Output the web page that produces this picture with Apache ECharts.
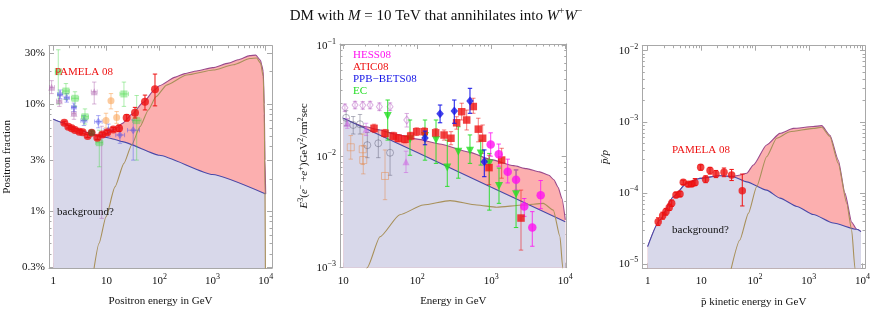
<!DOCTYPE html>
<html><head><meta charset="utf-8">
<script src="https://cdn.jsdelivr.net/npm/echarts@6/dist/echarts.min.js"></script>
<style>html,body{margin:0;padding:0;background:#fff}#c{width:872px;height:319px}</style>
</head><body><div id="c"></div>
<script>
// ================= DATA =================
// Panel 1: positron fraction vs positron energy (GeV)
const posBgE  = [1,1.5,2,3,5,7,10,15,20,100,1000,10000];
const posBgF  = [0.072,0.067,0.063,0.058,0.053,0.0505,0.0488,0.0465,0.0446,0.0333,0.022,0.0145];
const posTotE = [1,2,3,5,7,10,15,20,30,50,80,100,200,300,500,1000,2000,3000,5000,6500,8000,8400,9000,9400,9700,10000];
const posTotF = [0.072,0.063,0.058,0.053,0.0505,0.053,0.059,0.066,0.080,0.104,0.135,0.148,0.178,0.192,0.203,0.218,0.24,0.258,0.282,0.285,0.255,0.232,0.2,0.1,0.03,0.0145];
const posDmE  = [5.5,7.26,9.83,14.5,21.4,29.9,43,61.7,86,136,325,1030,2450,5060,6760,8000,9000,9400,9700,9900];
const posDmF  = [0.0024,0.00503,0.0089,0.0169,0.028,0.0415,0.0615,0.088,0.117,0.150,0.186,0.207,0.232,0.265,0.268,0.24,0.18,0.08,0.015,0.002];
// rows: [E, value, low, high, Elow, Ehigh]
const pamelaPos = [[1.61,0.067,0.065,0.069],[1.92,0.0614,0.0597,0.0631],[2.22,0.0593,0.0577,0.061],[2.56,0.0573,0.0557,0.059],[3.09,0.0552,0.0536,0.0569],[3.57,0.0545,0.0528,0.0562],[4.44,0.0503,0.0487,0.052],[5.27,0.054,0.052,0.056],[6.75,0.0485,0.0468,0.0503],[8.4,0.052,0.0502,0.054],[10.4,0.0545,0.0525,0.0566],[13.5,0.058,0.0556,0.0605],[17.3,0.0593,0.0555,0.0635],[24.1,0.0745,0.0695,0.0795],[34.6,0.083,0.074,0.093],[53.3,0.105,0.088,0.121],[82.3,0.137,0.096,0.19]];
const oldPosPurple = [[0.93,0.143,0.125,0.165,0.85,1.05],[1.3,0.107,0.095,0.12,1.15,1.45],[2.45,0.082,0.072,0.094,2.2,2.7],[5.9,0.13,0.1,0.16,5.2,6.7],[8.15,0.052,0.0086,0.062,7.3,9.1]];
const oldPosBlue   = [[1.34,0.123,0.112,0.135,1.2,1.5],[1.79,0.114,0.104,0.125,1.6,2.0],[2.45,0.093,0.085,0.102,2.2,2.7],[3.78,0.07,0.063,0.078,3.3,4.3],[7.05,0.0684,0.06,0.078,6,8.3],[10.9,0.057,0.05,0.065,9,13],[18,0.0514,0.043,0.06,15,22],[32,0.057,0.03,0.071,25,42]];
const oldPosGreen  = [[1.24,0.2,0.1,0.32,1.1,1.4],[1.73,0.132,0.11,0.155,1.5,2.0],[2.56,0.113,0.095,0.13,2.2,3.0],[3.95,0.076,0.065,0.09,3.4,4.6],[7.35,0.0436,0.026,0.057,6.3,8.6],[21.4,0.124,0.095,0.16,18,26],[37.2,0.07,0.03,0.12,31,45]];
const oldPosOrange = [[9.83,0.07,0.06,0.082],[12.2,0.107,0.09,0.125],[15.6,0.075,0.066,0.085]];
const oldPosDark   = [[5.27,0.054,0.052,0.056]];

// Panel 2: E^3 flux of e+ + e- vs energy (GeV)
const eeBgE  = [10,100,1000,10000];
const eeBgF  = [0.0222,0.0109,0.0053,0.0026];
const eeTotE = [10,20,30,50,100,200,500,1000,2000,3000,4500,6000,7000,8000,9000,10000];
const eeTotF = [0.0222,0.0186,0.0175,0.0160,0.0144,0.0130,0.0110,0.0094,0.0083,0.0078,0.0073,0.0068,0.0062,0.0053,0.0042,0.0027];
const eeDmE  = [19,21,31.3,58,120,277,635,1180,2700,5040,6890,8480,9230,9500];
const eeDmF  = [0.00085,0.001,0.0019,0.003,0.00367,0.00402,0.00367,0.0035,0.00367,0.0038,0.0033,0.0019,0.001,0.0006];
const hess08 = [[981,0.0129,0.0101,0.0164],[1260,0.0105,0.0082,0.013],[1667,0.0073,0.0058,0.0095],[2160,0.0062,0.005,0.0076],[2790,0.00355,0.0029,0.0042],[3580,0.0023,0.00156,0.0032],[4650,0.0045,0.0034,0.0061]];
const atic08 = [[26,0.018,0.0165,0.0196],[36.6,0.01626,0.015,0.0176],[47.5,0.01535,0.0142,0.0166],[55.3,0.01466,0.0136,0.0158],[68.2,0.01435,0.0133,0.0155],[81.3,0.01535,0.0142,0.0166],[98,0.0168,0.0155,0.0182],[124,0.0168,0.0155,0.0182],[177,0.0164,0.015,0.0179],[230,0.01567,0.0141,0.0174],[285,0.01466,0.0128,0.0168],[340,0.0202,0.0177,0.0229],[398,0.0254,0.0214,0.0303],[465,0.0214,0.0174,0.0263],[571,0.0283,0.0246,0.0336],[667,0.0177,0.0136,0.0222],[764,0.01466,0.0107,0.0193],[931,0.00797,0.0056,0.0103],[1380,0.00933,0.0064,0.0119],[2520,0.0028,0.00144,0.005]];
const ppbBets08 = [[127,0.0147,0.0128,0.017],[203,0.0243,0.0202,0.0292],[316,0.0258,0.02,0.0324],[515,0.0318,0.0246,0.0413],[804,0.009,0.0066,0.0115]];
const ec = [[39.8,0.0233,0.0141,0.0324],[79.6,0.01435,0.0103,0.0214],[127,0.01535,0.0093,0.0214],[179,0.0141,0.0087,0.0214],[254,0.008,0.0054,0.0141],[358,0.0111,0.0064,0.0186],[515,0.0113,0.0087,0.0157],[720,0.0107,0.0084,0.0141],[940,0.0087,0.0033,0.0107],[1270,0.00545,0.0038,0.0079],[2160,0.00458,0.0023,0.0076]];
const oldEeDiamond = [[10.5,0.0276,0.0255,0.0298],[14.4,0.0292,0.027,0.0315],[18.3,0.029,0.0268,0.0313],[23,0.0292,0.027,0.0315],[30.7,0.0282,0.026,0.0305],[42.8,0.0282,0.026,0.0305],[72,0.0214,0.0185,0.0245]];
const oldEeCircle  = [[10.9,0.0224,0.019,0.026],[13.6,0.0193,0.016,0.023],[16.8,0.0196,0.016,0.024],[21.1,0.0127,0.0098,0.0165],[29.7,0.0132,0.0098,0.0175],[42.8,0.01085,0.0068,0.0165]];
const oldEeSquare  = [[12.6,0.01216,0.0095,0.0155],[18.3,0.01167,0.0085,0.016],[18.6,0.00933,0.007,0.0125],[36.6,0.0067,0.0041,0.0115]];
const oldEeTri     = [[11.3,0.02,0.018,0.022],[20.3,0.0177,0.0155,0.02],[70.3,0.009,0.0072,0.0112]];

// Panel 3: antiproton / proton ratio vs kinetic energy (GeV)
const pbBgE  = [1,1.69,3.0,5.3,9.4,22.2,39.3,69.8,164,291,600,1213,2860,7800,9380];
const pbBgF  = [1.77e-5,4.19e-5,8.9e-5,1.37e-4,1.61e-4,1.75e-4,1.7e-4,1.44e-4,1.1e-4,8.5e-5,6.5e-5,5.0e-5,3.8e-5,3.1e-5,2.88e-5];
const pbTotE = [1,1.69,3.0,5.3,9.4,22.2,39.3,50,70,93,164,291,515,1213,1740,2480,3540,4720,6300,7800,9380];
const pbTotF = [1.77e-5,4.19e-5,8.9e-5,1.37e-4,1.61e-4,1.75e-4,1.72e-4,1.78e-4,1.9e-4,2.48e-4,4.74e-4,6.9e-4,8.1e-4,8.6e-4,8.85e-4,6.5e-4,2.92e-4,1.0e-4,3.9e-5,3.1e-5,2.88e-5];
const pbDmE  = [34,52,75,107,164,252,447,1213,1740,2480,3540,5080,6300,7240,7600];
const pbDmF  = [7.3e-6,2.19e-5,5.2e-5,1.23e-4,3.24e-4,5.9e-4,7.28e-4,8.1e-4,8.4e-4,6.2e-4,2.6e-4,7.2e-5,3.0e-5,8.8e-6,6e-6];
const pamelaPbar = [[1.57,3.96e-5,3.5e-5,4.5e-5],[1.9,4.82e-5,4.3e-5,5.4e-5],[2.19,5.48e-5,4.9e-5,6.1e-5],[2.52,6.3e-5,5.7e-5,7.0e-5],[2.8,7.2e-5,6.5e-5,8.0e-5],[3.37,9.4e-5,8.6e-5,1.03e-4],[4.0,9.7e-5,8.9e-5,1.06e-4],[4.6,1.42e-4,1.32e-4,1.52e-4],[5.7,1.33e-4,1.24e-4,1.43e-4],[6.6,1.34e-4,1.24e-4,1.45e-4],[7.6,1.4e-4,1.28e-4,1.6e-4],[9.7,2.3e-4,2.1e-4,2.5e-4],[12,1.56e-4,1.4e-4,1.75e-4],[14.5,2.07e-4,1.85e-4,2.3e-4],[18.7,1.85e-4,1.65e-4,2.08e-4],[26.4,1.96e-4,1.7e-4,2.25e-4],[36.6,1.8e-4,1.5e-4,2.15e-4],[57.8,1.08e-4,6.6e-5,1.85e-4]];

// tick values
const pctTicks = [0.003,0.01,0.03,0.1,0.3];
const pctMinor = [0.004,0.005,0.006,0.007,0.008,0.009,0.02,0.04,0.05,0.06,0.07,0.08,0.09,0.2];

// ================= BUILD =================
const L = Math.log10;
const FONT = '"Liberation Serif","DejaVu Serif",serif';
const FRAME = '#a8a8a8';
const PINK = '#FCAFAF', LAV = '#D8D8EA';
const TOTC = '#9A4A8C', BGC = '#4848A8', DMC = '#A8905A';

function decMinor(d0, d1){ const r=[]; for(let d=d0; d<=d1; d++) for(let k=2;k<=9;k++) r.push(L(k*Math.pow(10,d))); return r; }
function range(a,b){ const r=[]; for(let i=a;i<=b;i++) r.push(i); return r; }

const richBase = {
  b:{fontFamily:FONT,fontSize:11,lineHeight:16,color:'#111'},
  s:{fontFamily:FONT,fontSize:8,lineHeight:8,verticalAlign:'top',color:'#111'}
};
function fmtPow(v){ const n=Math.round(v); if(n===0) return '{b|1}'; if(n===1) return '{b|10}'; return '{b|10}{s|'+(n<0?'\u2212'+(-n):n)+'}'; }
function fmtPowNeg(v){ const n=Math.round(v); return '{b|10}{s|\u2212'+(-n)+'}'; }
function fmtPct(v){ const p=Math.pow(10,v)*100; const t = p<1 ? p.toFixed(1) : String(Math.round(p)); return '{b|'+t+'%}'; }

const panels = [
  {grid:{left:49,top:45.7,width:223,height:222.3}, x:[-0.081,4.119], y:[-2.528,-0.457],
   xMaj:range(0,4), xMin:decMinor(0,3), yMaj:pctTicks.map(L), yMin:pctMinor.map(L),
   xFmt:fmtPow, yFmt:fmtPct,
   xName:'{n|Positron energy in GeV}', yName:'{n|Positron fraction}', yGap:34},
  {grid:{left:340,top:44,width:226.7,height:223.7}, x:[0.955,4.019], y:[-3.0,-0.985],
   xMaj:range(1,4), xMin:decMinor(1,3), yMaj:range(-3,-1), yMin:decMinor(-3,-2),
   xFmt:fmtPow, yFmt:fmtPowNeg,
   xName:'{n|Energy in GeV}', yName:'{i|E}{s|3}{n|(}{i|e}{s|\u2212}{n| +}{i|e}{s|+}{n|)GeV}{s|2}{n|/cm}{s|2}{n|sec}', yGap:28},
  {grid:{left:642.3,top:45.7,width:222.7,height:222.6}, x:[-0.1,4.047], y:[-5.056,-1.93],
   xMaj:range(0,4), xMin:decMinor(0,3), yMaj:range(-5,-2), yMin:decMinor(-5,-3),
   xFmt:fmtPow, yFmt:fmtPowNeg,
   xName:'{n|p\u0304 kinetic energy in GeV}', yName:'{i|p\u0304/p}', yGap:30}
];

const nameRich = {
  n:{fontFamily:FONT,fontSize:11,color:'#111',lineHeight:15},
  i:{fontFamily:FONT,fontSize:11,fontStyle:'italic',color:'#111',lineHeight:15},
  s:{fontFamily:FONT,fontSize:8,color:'#111',verticalAlign:'top',lineHeight:8}
};

const grids=[], xAxes=[], yAxes=[];
function axes(dim, pi, P){
  const rng = dim==='x'?P.x:P.y, maj = dim==='x'?P.xMaj:P.yMaj, mnr = dim==='x'?P.xMin:P.yMin;
  const pos = dim==='x'?['bottom','top']:['left','right'];
  const base = {type:'value', gridIndex:pi, min:rng[0], max:rng[1], splitLine:{show:false}, silent:true};
  const tick = (vals,len)=>({show:true, inside:true, length:len, customValues:vals, lineStyle:{color:FRAME,width:1}});
  const line = {show:true, onZero:false, lineStyle:{color:FRAME,width:1}};
  const main = Object.assign({}, base, {
    position:pos[0], axisLine:line, axisTick:tick(maj,5),
    axisLabel:{show:true, customValues:maj, formatter: dim==='x'?P.xFmt:P.yFmt, rich:richBase, margin: dim==='x'?5:4},
    name: dim==='x'?P.xName:P.yName, nameLocation:'middle', nameGap: dim==='x'?26:P.yGap,
    nameRotate: dim==='x'?0:90, nameTextStyle:{rich:nameRich}
  });
  return [
    main,
    Object.assign({}, base, {position:pos[0], axisLine:{show:false,onZero:false}, axisTick:tick(mnr,2.5), axisLabel:{show:false}}),
    Object.assign({}, base, {position:pos[1], axisLine:line, axisTick:tick(maj,5), axisLabel:{show:false}}),
    Object.assign({}, base, {position:pos[1], axisLine:{show:false,onZero:false}, axisTick:tick(mnr,2.5), axisLabel:{show:false}})
  ];
}
panels.forEach((P,pi)=>{
  grids.push(Object.assign({containLabel:false, outerBoundsMode:'none'}, P.grid));
  xAxes.push(...axes('x',pi,P));
  yAxes.push(...axes('y',pi,P));
});

function lineData(E,V){ return E.map((e,i)=>[L(e),L(V[i])]); }
function curve(pi,E,V,color,area,z,sm){
  const s = {type:'line', xAxisIndex:4*pi, yAxisIndex:4*pi, data:lineData(E,V), showSymbol:false, symbol:'none',
    smooth:(sm===undefined?0.2:sm), smoothMonotone:'x', clip:true, silent:true, z:z, lineStyle:{color:color,width:1.1}};
  if(area) s.areaStyle = {color:area, opacity:1, origin:'start'};
  return s;
}
function errBars(pi,rows,color,z,op){
  return {type:'custom', xAxisIndex:4*pi, yAxisIndex:4*pi, clip:true, silent:true, z:z,
    data: rows.map(r=>[L(r[0]), L(r[2]), L(r[3]), L(r[4]!==undefined?r[4]:r[0]), L(r[5]!==undefined?r[5]:r[0]), L(r[1])]),
    encode:{x:0,y:5},
    renderItem:function(params, api){
      const x=api.value(0), lo=api.value(1), hi=api.value(2), xl=api.value(3), xh=api.value(4), yv=api.value(5);
      const a=api.coord([x,lo]), b=api.coord([x,hi]);
      const st={stroke:color, lineWidth:1, fill:null, opacity:op};
      const c=2.2;
      const ch=[
        {type:'line', shape:{x1:a[0],y1:a[1],x2:b[0],y2:b[1]}, style:st},
        {type:'line', shape:{x1:a[0]-c,y1:a[1],x2:a[0]+c,y2:a[1]}, style:st},
        {type:'line', shape:{x1:b[0]-c,y1:b[1],x2:b[0]+c,y2:b[1]}, style:st}];
      if(xh>xl+1e-6){
        const p=api.coord([xl,yv]), q=api.coord([xh,yv]);
        ch.push({type:'line', shape:{x1:p[0],y1:p[1],x2:q[0],y2:q[1]}, style:st});
        ch.push({type:'line', shape:{x1:p[0],y1:p[1]-c,x2:p[0],y2:p[1]+c}, style:st});
        ch.push({type:'line', shape:{x1:q[0],y1:q[1]-c,x2:q[0],y2:q[1]+c}, style:st});
      }
      return {type:'group', children:ch};
    }};
}
function points(pi,rows,symbol,size,color,z,opt){
  opt = opt||{};
  const s = {type:'scatter', xAxisIndex:4*pi, yAxisIndex:4*pi, data:rows.map(r=>[L(r[0]),L(r[1])]),
    symbol:symbol, symbolSize:size, silent:true, z:z, clip:true,
    itemStyle: opt.hollow ? {color:'rgba(0,0,0,0)', borderColor:color, borderWidth:1} : {color:color}};
  if(opt.rotate) s.symbolRotate = opt.rotate;
  return s;
}

const RED='#EE1111', MAG='#FF10F0', BLUE='#1414E6', GREEN='#22DD22';
const series = [];
// Panel 1
series.push(curve(0,posTotE,posTotF,TOTC,PINK,1));
series.push(curve(0,posBgE,posBgF,BGC,LAV,2,0.15));
series.push(curve(0,posDmE,posDmF,DMC,null,3));
[[oldPosPurple,'triangle','rgba(165,80,165,1)',0.42],[oldPosBlue,'diamond','rgba(70,70,230,1)',0.42],
 [oldPosGreen,'rect','rgba(60,215,60,1)',0.42],[oldPosOrange,'circle','rgba(250,160,80,1)',0.55]].forEach(d=>{
  series.push(errBars(0,d[0],d[2],4,d[3]));
  const sp = points(0,d[0],d[1],d[1]==='diamond'?[6,8]:7,d[2],5);
  sp.itemStyle.opacity = d[3];
  series.push(sp);
});
series.push(errBars(0,pamelaPos,RED,6,1));
series.push(points(0,pamelaPos,'circle',8,RED,7));
series.push(points(0,oldPosDark,'circle',7,'rgba(80,90,40,0.8)',8));

// Panel 2
series.push(curve(1,eeTotE,eeTotF,TOTC,PINK,1));
series.push(curve(1,eeBgE,eeBgF,BGC,LAV,2,0));
series.push(curve(1,eeDmE,eeDmF,DMC,null,3));
[[oldEeDiamond,'diamond','rgb(190,110,200)',0.55,true,[6,8]],[oldEeCircle,'circle','rgb(90,90,115)',0.45,true,7],
 [oldEeSquare,'rect','rgb(230,140,80)',0.5,true,7],[oldEeTri,'triangle','rgb(205,90,225)',0.5,false,7]].forEach(d=>{
  series.push(errBars(1,d[0],d[2],4,d[3]));
  const sp = points(1,d[0],d[1],d[5],d[2],5,{hollow:d[4]});
  sp.itemStyle.opacity = d[3];
  series.push(sp);
});
series.push(errBars(1,ec,GREEN,6,0.9));
series.push(points(1,ec,'triangle',8,GREEN,7,{rotate:180}));
series.push(errBars(1,atic08,RED,6,0.55));
series.push(points(1,atic08,'rect',7.5,RED,8));
series.push(errBars(1,hess08,MAG,6,0.8));
series.push(points(1,hess08,'circle',8.5,MAG,8));
series.push(errBars(1,ppbBets08,BLUE,9,1));
series.push(points(1,ppbBets08,'diamond',[7.5,9],BLUE,9));

// Panel 3
series.push(curve(2,pbTotE,pbTotF,TOTC,PINK,1));
series.push(curve(2,pbBgE,pbBgF,BGC,LAV,2));
series.push(curve(2,pbDmE,pbDmF,DMC,null,3));
series.push(errBars(2,pamelaPbar,RED,6,1));
series.push(points(2,pamelaPbar,'circle',7.5,RED,7));

const txt = (x,y,t,c,fs)=>({type:'text', x:x, y:y, silent:true, z:100,
  style:{text:t, fill:c, font:(fs||11)+'px '+FONT, verticalAlign:'middle', align:'left'}});

const option = {
  animation:false,
  backgroundColor:'#fff',
  title:{left:'center', top:1, text:'{n|DM with }{i|M}{n| = 10 TeV that annihilates into }{i|W}{s|+}{i|W}{s|\u2212}',
    textStyle:{fontWeight:'normal', rich:{
      n:{fontFamily:FONT,fontSize:15,fontWeight:'normal',color:'#111',lineHeight:21},
      i:{fontFamily:FONT,fontSize:15,fontWeight:'normal',fontStyle:'italic',color:'#111',lineHeight:21},
      s:{fontFamily:FONT,fontSize:9.5,fontWeight:'normal',color:'#111',verticalAlign:'top',lineHeight:10}}}},
  grid:grids, xAxis:xAxes, yAxis:yAxes, series:series,
  graphic:[
    txt(55,72,'PAMELA 08',RED,11),
    txt(57,212,'background?','#111',11),
    txt(353,55,'HESS08',MAG,11),
    txt(353,67,'ATIC08',RED,11),
    txt(353,79,'PPB\u2212BETS08',BLUE,11),
    txt(353,91,'EC',GREEN,11),
    txt(672,150,'PAMELA 08',RED,11),
    txt(672,230,'background?','#111',11)
  ]
};
const chart = echarts.init(document.getElementById('c'), null, {renderer:'canvas'});
chart.setOption(option);
</script></body></html>
